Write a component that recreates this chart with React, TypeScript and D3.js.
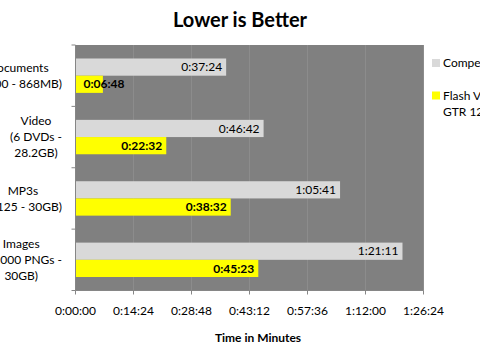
import React, { useMemo } from "react";
import * as d3 from "d3";

const categories: string[][] = [
  ["Documents", "(1,000 - 868MB)"],
  ["Video", "(6 DVDs -", "28.2GB)"],
  ["MP3s", "(7,125 - 30GB)"],
  ["Images", "(10,000 PNGs -", "30GB)"],
];
const seriesNames = ["Competitor", "Flash Voyager GTR 128GB"];
const competitor = ["0:37:24", "0:46:42", "1:05:41", "1:21:11"];
const flashVoyager = ["0:06:48", "0:22:32", "0:38:32", "0:45:23"];
const xTicks = ["0:00:00", "0:14:24", "0:28:48", "0:43:12", "0:57:36", "1:12:00", "1:26:24"];
const title = "Lower is Better";
const xTitle = "Time in Minutes";

const toSec = (s: string) => {
  const [h, m, ss] = s.split(":").map(Number);
  return h * 3600 + m * 60 + ss;
};

const FONT = "Lato, 'Open Sans', sans-serif";

function measure(text: string, font: string): number {
  const c = document.createElement("canvas").getContext("2d");
  if (!c) return text.length * 6;
  c.font = font;
  return c.measureText(text).width;
}

export default function App() {
  const W = 480, H = 360;
  const left = 75.5, right = 423.5, top = 45, bottom = 290.5;
  const x = d3.scaleLinear().domain([0, toSec(xTicks[xTicks.length - 1])]).range([left, right]);
  const band = d3.scaleBand<number>().domain(categories.map((_, i) => i)).range([top, bottom]);
  const bw = band.bandwidth();
  const barH = 17.2;
  const series = [competitor, flashVoyager];
  const colors = ["#d9d9d9", "#ffff00"];
  const labelFont = `12px ${FONT}`;

  const catLabels = useMemo(() => categories.map((lines) => {
    const maxW = Math.max(...lines.map((l) => measure(l, labelFont)));
    return { lines, cx: 62 - maxW / 2 };
  }), []);

  return (
    <div style={{ position: "absolute", left: 0, top: 0 }}>
      <svg width={W} height={H} style={{ display: "block", fontFamily: FONT }}>
        <rect width={W} height={H} fill="#fff" />
        <text x={240} y={26.5} textAnchor="middle" fontWeight="bold" fontSize={20}>{title}</text>
        <rect x={left} y={top} width={right - left} height={bottom - top} fill="#808080" />
        {xTicks.map((t, i) => i > 0 && (
          <line key={t} x1={x(toSec(t))} x2={x(toSec(t))} y1={top} y2={bottom} stroke="#8c8c8c" strokeWidth={1} />
        ))}
        {categories.map((_, ci) => {
          const y0 = band(ci)! + (bw - 2 * barH) / 2;
          return series.map((s, si) => {
            const v = toSec(s[ci]);
            const xe = x(v);
            const y = y0 + si * barH;
            const bold = si === 1;
            const tw = measure(s[ci], `${bold ? "bold " : ""}12px ${FONT}`);
            const fits = xe - left > tw + 8;
            return (
              <g key={`${ci}-${si}`}>
                <rect x={left} y={y} width={xe - left} height={barH} fill={colors[si]} />
                <text
                  x={fits ? xe - 4 : left + 8}
                  y={y + barH / 2}
                  dy="0.35em"
                  textAnchor={fits ? "end" : "start"}
                  fontSize={12}
                  fontWeight={bold ? "bold" : "normal"}
                  fill="#000"
                >{s[ci]}</text>
              </g>
            );
          });
        })}
        {/* axes */}
        <line x1={left} x2={left} y1={top} y2={bottom} stroke="#868686" />
        {d3.range(categories.length + 1).map((i) => {
          const y = top + i * bw;
          return <line key={i} x1={left - 4} x2={left} y1={y} y2={y} stroke="#868686" />;
        })}
        <line x1={left} x2={right} y1={bottom} y2={bottom} stroke="#868686" />
        {xTicks.map((t) => (
          <g key={t}>
            <line x1={x(toSec(t))} x2={x(toSec(t))} y1={bottom} y2={bottom + 4} stroke="#868686" />
            <text x={x(toSec(t))} y={311} dy="0.35em" textAnchor="middle" fontSize={12}>{t}</text>
          </g>
        ))}
        <text x={258} y={338} dy="0.35em" textAnchor="middle" fontSize={12} fontWeight="bold">{xTitle}</text>
        {catLabels.map((c, ci) => {
          const cy = band(ci)! + bw / 2;
          const n = c.lines.length;
          return (
            <text key={ci} fontSize={12} textAnchor="middle">
              {c.lines.map((l, li) => (
                <tspan key={li} x={c.cx} y={cy + (li - (n - 1) / 2) * 16} dy="0.35em">{l}</tspan>
              ))}
            </text>
          );
        })}
        {/* legend */}
        <rect x={432} y={59} width={8} height={8} fill={colors[0]} />
        <text x={443} y={63} dy="0.35em" fontSize={12}>{seriesNames[0]}</text>
        <rect x={432} y={91.5} width={8} height={8} fill={colors[1]} />
        <text fontSize={12}>
          <tspan x={443} y={95.5} dy="0.35em">Flash Voyager</tspan>
          <tspan x={443} y={111.5} dy="0.35em">GTR 128GB</tspan>
        </text>
      </svg>
    </div>
  );
}
